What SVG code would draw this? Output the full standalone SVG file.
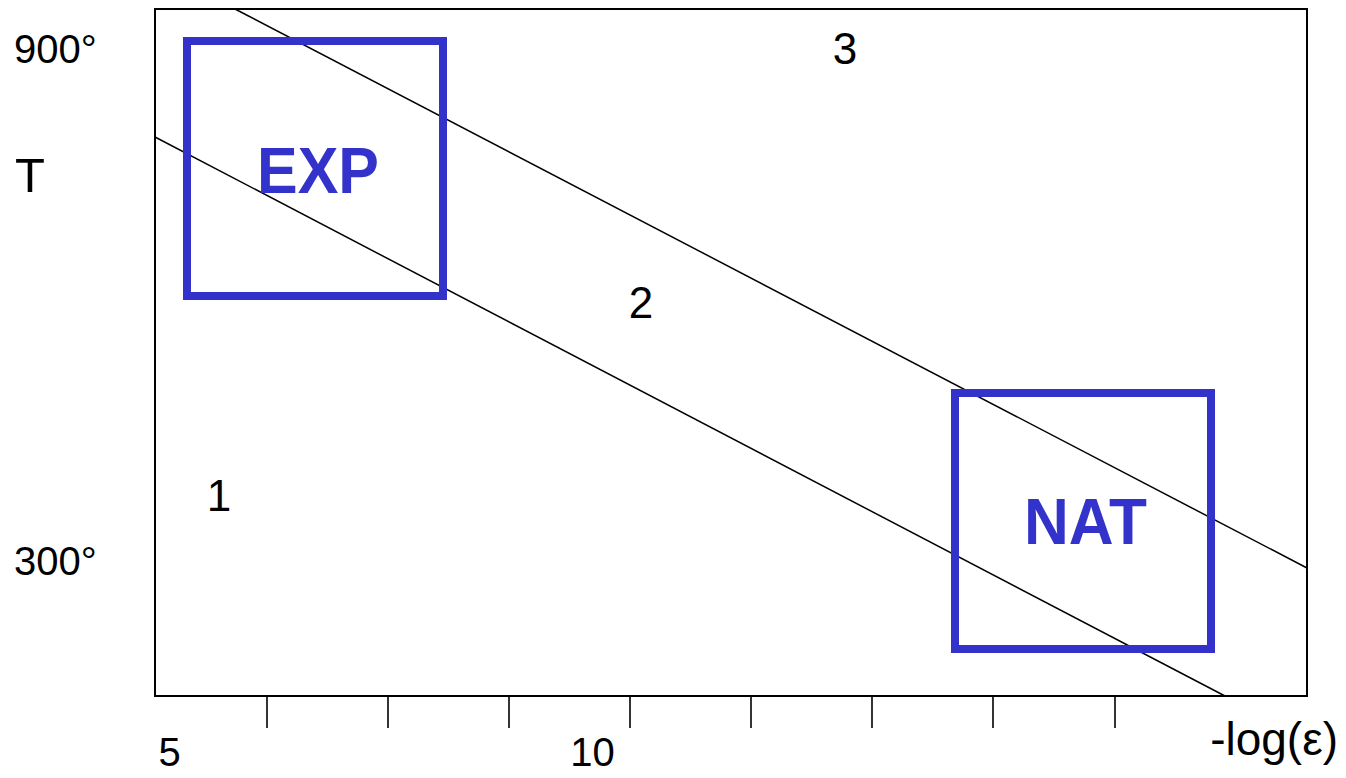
<svg xmlns="http://www.w3.org/2000/svg" width="1346" height="778" viewBox="0 0 1346 778">
<style>
.lbl{font-family:"Liberation Sans",Arial,sans-serif;fill:#000}
.box{fill:none;stroke:#3333cc;stroke-width:8}
.btxt{font-family:"Liberation Sans",Arial,sans-serif;font-weight:bold;fill:#3333cc;font-size:65px;text-anchor:middle}
.ln{stroke:#000;stroke-width:1.5;fill:none}
.tick{stroke:#000;stroke-width:1.6}
</style>
<rect width="1346" height="778" fill="#fff"/>
<g id="frame">
<rect x="155" y="9" width="1152" height="687" fill="none" stroke="#000" stroke-width="2"/>
</g>
<g id="ticks">
<line class="tick" x1="267" y1="697" x2="267" y2="728"/>
<line class="tick" x1="388" y1="697" x2="388" y2="728"/>
<line class="tick" x1="509" y1="697" x2="509" y2="728"/>
<line class="tick" x1="630" y1="697" x2="630" y2="728"/>
<line class="tick" x1="751" y1="697" x2="751" y2="728"/>
<line class="tick" x1="872" y1="697" x2="872" y2="728"/>
<line class="tick" x1="993" y1="697" x2="993" y2="728"/>
<line class="tick" x1="1115" y1="697" x2="1115" y2="728"/>
</g>
<g id="connectors">
<line class="ln" x1="235" y1="9" x2="1307" y2="568"/>
<line class="ln" x1="155" y1="137" x2="1225" y2="696"/>
</g>
<g id="exp">
<rect class="box" x="187" y="41" width="256" height="255"/>
<text class="btxt" x="318" y="193" textLength="122" lengthAdjust="spacingAndGlyphs">EXP</text>
</g>
<g id="nat">
<rect class="box" x="955" y="393" width="256" height="256"/>
<text class="btxt" x="1085.5" y="544" textLength="123" lengthAdjust="spacingAndGlyphs">NAT</text>
</g>
<g id="labels">
<text class="lbl" x="14" y="63" font-size="40">900°</text>
<text class="lbl" x="15" y="192" font-size="49">T</text>
<text class="lbl" x="14" y="575" font-size="40">300°</text>
<text class="lbl" x="219" y="511" font-size="44" text-anchor="middle">1</text>
<text class="lbl" x="641" y="318" font-size="44" text-anchor="middle">2</text>
<text class="lbl" x="845" y="64" font-size="44" text-anchor="middle">3</text>
<text class="lbl" x="169.5" y="766" font-size="40" text-anchor="middle">5</text>
<text class="lbl" x="592.5" y="766" font-size="40" text-anchor="middle">10</text>
<text class="lbl" x="1338" y="755" font-size="46" text-anchor="end">-log(ε)</text>
</g>
</svg>
